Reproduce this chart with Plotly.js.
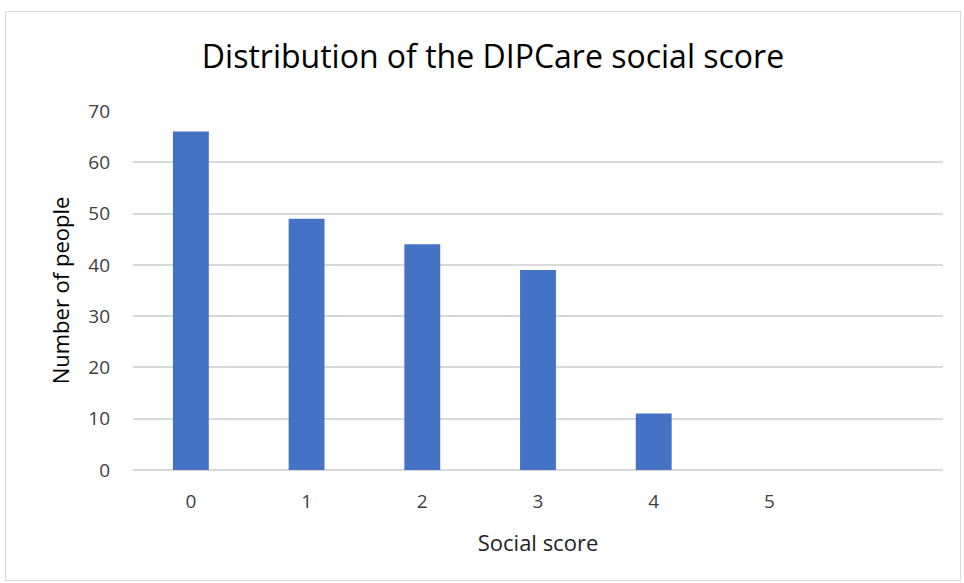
<!DOCTYPE html>
<html>
<head>
<meta charset="utf-8">
<script src="https://cdn.plot.ly/plotly-3.0.1.min.js"></script>
<style>
  html, body { margin: 0; padding: 0; background: #fff; }
  #wrap { position: relative; width: 964px; height: 583px; }
  #chart { position: absolute; left: 0; top: 0; width: 964px; height: 583px; }
  #frame { position: absolute; left: 5px; top: 11px; width: 954px; height: 568px; border: 1.5px solid #d9d9d9; pointer-events: none; }
</style>
</head>
<body>
<div id="wrap">
  <div id="chart"></div>
  <div id="frame"></div>
</div>
<script>
const categories = [0, 1, 2, 3, 4, 5];
const tickLabels = ["0", "1", "2", "3", "4", "5"];
const counts = [66, 49, 44, 39, 11, 0];

const trace = {
  type: 'bar',
  x: categories,
  y: counts,
  width: 0.31,
  marker: { color: '#4472c4', line: { width: 0 } },
  hoverinfo: 'x+y'
};

const layout = {
  width: 964,
  height: 583,
  margin: { l: 133, r: 21, t: 111, b: 113 },
  paper_bgcolor: 'rgba(0,0,0,0)',
  plot_bgcolor: '#fff',
  showlegend: false,
  font: { family: 'Open Sans, sans-serif', color: '#444' },
  title: {
    text: 'Distribution of the DIPCare social score',
    font: { family: 'Open Sans, sans-serif', size: 32, color: '#000' },
    x: 493 / 964, xanchor: 'center', xref: 'container',
    y: 1 - 57 / 583, yanchor: 'middle', yref: 'container'
  },
  xaxis: {
    range: [-0.5, 6.5],
    tickmode: 'array',
    tickvals: categories,
    ticktext: tickLabels,
    showgrid: false,
    zeroline: false,
    showline: false,
    ticks: '',
    ticklabelstandoff: 18,
    tickfont: { size: 19, color: '#404040' },
    title: { text: 'Social score', font: { size: 22, color: '#222' }, standoff: 22 }
  },
  yaxis: {
    range: [0, 70],
    dtick: 10,
    showgrid: true,
    gridcolor: '#d9d9d9',
    gridwidth: 2,
    zeroline: true,
    zerolinecolor: '#d9d9d9',
    zerolinewidth: 2,
    showline: false,
    ticks: '',
    ticklabelstandoff: 22,
    tickfont: { size: 19, color: '#404040' },
    title: { text: 'Number of people', font: { size: 22, color: '#000' }, standoff: 12 }
  }
};

Plotly.newPlot('chart', [trace], layout, { displayModeBar: false, responsive: false });
</script>
</body>
</html>
